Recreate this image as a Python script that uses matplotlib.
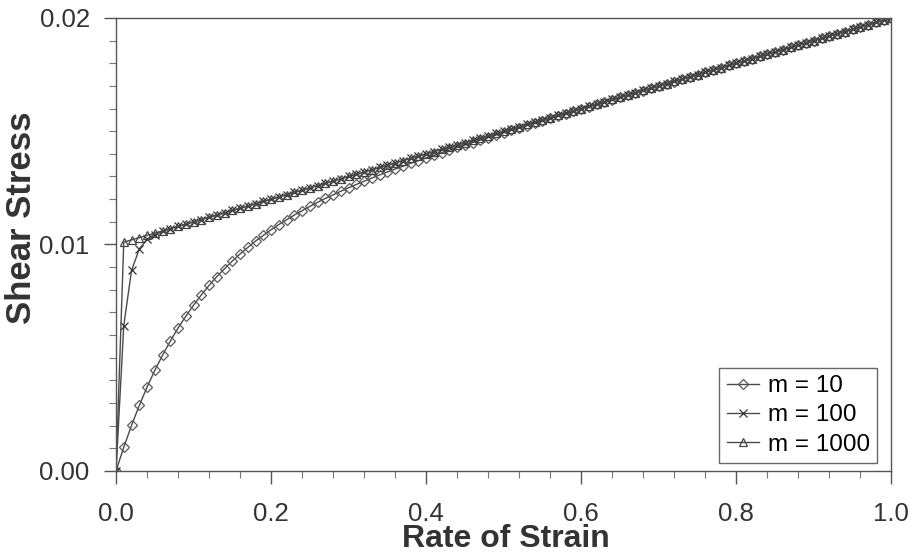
import matplotlib
matplotlib.use("Agg")
import matplotlib.pyplot as plt
from matplotlib.ticker import MultipleLocator, FormatStrFormatter

plt.rcParams["font.family"] = ["Liberation Sans", "DejaVu Sans"]

# rate of strain samples
strain = [
    0.00, 0.01, 0.02, 0.03, 0.04, 0.05, 0.06, 0.07, 0.08, 0.09,
    0.10, 0.11, 0.12, 0.13, 0.14, 0.15, 0.16, 0.17, 0.18, 0.19,
    0.20, 0.21, 0.22, 0.23, 0.24, 0.25, 0.26, 0.27, 0.28, 0.29,
    0.30, 0.31, 0.32, 0.33, 0.34, 0.35, 0.36, 0.37, 0.38, 0.39,
    0.40, 0.41, 0.42, 0.43, 0.44, 0.45, 0.46, 0.47, 0.48, 0.49,
    0.50, 0.51, 0.52, 0.53, 0.54, 0.55, 0.56, 0.57, 0.58, 0.59,
    0.60, 0.61, 0.62, 0.63, 0.64, 0.65, 0.66, 0.67, 0.68, 0.69,
    0.70, 0.71, 0.72, 0.73, 0.74, 0.75, 0.76, 0.77, 0.78, 0.79,
    0.80, 0.81, 0.82, 0.83, 0.84, 0.85, 0.86, 0.87, 0.88, 0.89,
    0.90, 0.91, 0.92, 0.93, 0.94, 0.95, 0.96, 0.97, 0.98, 0.99,
    1.00,
]

stress_m10 = [
    0.00000, 0.00105, 0.00201, 0.00289, 0.00370, 0.00444, 0.00511, 0.00573, 0.00631, 0.00683,
    0.00732, 0.00777, 0.00819, 0.00858, 0.00893, 0.00927, 0.00958, 0.00987, 0.01015, 0.01040,
    0.01065, 0.01088, 0.01109, 0.01130, 0.01149, 0.01168, 0.01186, 0.01203, 0.01219, 0.01235,
    0.01250, 0.01265, 0.01279, 0.01293, 0.01307, 0.01320, 0.01333, 0.01345, 0.01358, 0.01370,
    0.01382, 0.01393, 0.01405, 0.01416, 0.01428, 0.01439, 0.01450, 0.01461, 0.01472, 0.01483,
    0.01493, 0.01504, 0.01515, 0.01525, 0.01536, 0.01546, 0.01556, 0.01567, 0.01577, 0.01587,
    0.01598, 0.01608, 0.01618, 0.01628, 0.01638, 0.01649, 0.01659, 0.01669, 0.01679, 0.01689,
    0.01699, 0.01709, 0.01719, 0.01729, 0.01739, 0.01749, 0.01760, 0.01770, 0.01780, 0.01790,
    0.01800, 0.01810, 0.01820, 0.01830, 0.01840, 0.01850, 0.01860, 0.01870, 0.01880, 0.01890,
    0.01900, 0.01910, 0.01920, 0.01930, 0.01940, 0.01950, 0.01960, 0.01970, 0.01980, 0.01990,
    0.02000,
]

stress_m100 = [
    0.00000, 0.00642, 0.00885, 0.00980, 0.01022, 0.01043, 0.01058, 0.01069, 0.01080, 0.01090,
    0.01100, 0.01110, 0.01120, 0.01130, 0.01140, 0.01150, 0.01160, 0.01170, 0.01180, 0.01190,
    0.01200, 0.01210, 0.01220, 0.01230, 0.01240, 0.01250, 0.01260, 0.01270, 0.01280, 0.01290,
    0.01300, 0.01310, 0.01320, 0.01330, 0.01340, 0.01350, 0.01360, 0.01370, 0.01380, 0.01390,
    0.01400, 0.01410, 0.01420, 0.01430, 0.01440, 0.01450, 0.01460, 0.01470, 0.01480, 0.01490,
    0.01500, 0.01510, 0.01520, 0.01530, 0.01540, 0.01550, 0.01560, 0.01570, 0.01580, 0.01590,
    0.01600, 0.01610, 0.01620, 0.01630, 0.01640, 0.01650, 0.01660, 0.01670, 0.01680, 0.01690,
    0.01700, 0.01710, 0.01720, 0.01730, 0.01740, 0.01750, 0.01760, 0.01770, 0.01780, 0.01790,
    0.01800, 0.01810, 0.01820, 0.01830, 0.01840, 0.01850, 0.01860, 0.01870, 0.01880, 0.01890,
    0.01900, 0.01910, 0.01920, 0.01930, 0.01940, 0.01950, 0.01960, 0.01970, 0.01980, 0.01990,
    0.02000,
]

stress_m1000 = [
    0.00000, 0.01010, 0.01020, 0.01030, 0.01040, 0.01050, 0.01060, 0.01070, 0.01080, 0.01090,
    0.01100, 0.01110, 0.01120, 0.01130, 0.01140, 0.01150, 0.01160, 0.01170, 0.01180, 0.01190,
    0.01200, 0.01210, 0.01220, 0.01230, 0.01240, 0.01250, 0.01260, 0.01270, 0.01280, 0.01290,
    0.01300, 0.01310, 0.01320, 0.01330, 0.01340, 0.01350, 0.01360, 0.01370, 0.01380, 0.01390,
    0.01400, 0.01410, 0.01420, 0.01430, 0.01440, 0.01450, 0.01460, 0.01470, 0.01480, 0.01490,
    0.01500, 0.01510, 0.01520, 0.01530, 0.01540, 0.01550, 0.01560, 0.01570, 0.01580, 0.01590,
    0.01600, 0.01610, 0.01620, 0.01630, 0.01640, 0.01650, 0.01660, 0.01670, 0.01680, 0.01690,
    0.01700, 0.01710, 0.01720, 0.01730, 0.01740, 0.01750, 0.01760, 0.01770, 0.01780, 0.01790,
    0.01800, 0.01810, 0.01820, 0.01830, 0.01840, 0.01850, 0.01860, 0.01870, 0.01880, 0.01890,
    0.01900, 0.01910, 0.01920, 0.01930, 0.01940, 0.01950, 0.01960, 0.01970, 0.01980, 0.01990,
    0.02000,
]

labels = ["m = 10", "m = 100", "m = 1000"]

fig = plt.figure(figsize=(9.1, 5.6), dpi=100)
ax = fig.add_axes([0.1275, 0.159, 0.852, 0.809])

ax.plot(strain, stress_m10, color="#4a4a4a", linewidth=1.0, marker="D", markersize=5,
        markerfacecolor="none", markeredgecolor="#5a5a5a", markeredgewidth=0.9,
        label=labels[0])
ax.plot(strain, stress_m100, color="#4a4a4a", linewidth=1.0, marker="x", markersize=6,
        markeredgecolor="#333333", markeredgewidth=0.9, label=labels[1])
ax.plot(strain, stress_m1000, color="#4a4a4a", linewidth=1.0, marker="^", markersize=6,
        markerfacecolor="none", markeredgecolor="#444444", markeredgewidth=0.9,
        label=labels[2])

ax.set_xlim(0, 1.0)
ax.set_ylim(0, 0.02)
ax.xaxis.set_major_locator(MultipleLocator(0.2))
ax.xaxis.set_minor_locator(MultipleLocator(0.04))
ax.yaxis.set_major_locator(MultipleLocator(0.01))
ax.yaxis.set_minor_locator(MultipleLocator(0.001))
ax.xaxis.set_major_formatter(FormatStrFormatter("%.1f"))
ax.yaxis.set_major_formatter(FormatStrFormatter("%.2f"))

ax.tick_params(which="major", direction="out", length=9, width=1, color="#555555",
               labelsize=18.5, labelcolor="#333333", pad=10)
ax.tick_params(which="minor", direction="out", length=5, width=0.8, color="#777777")
ax.tick_params(axis="x", which="major", pad=13)

for s in ax.spines.values():
    s.set_color("#555555")
    s.set_linewidth(1.0)

ax.set_xlabel("Rate of Strain", fontsize=23, fontweight="bold", color="#333333",
              va="baseline")
ax.xaxis.set_label_coords(0.503, -0.168)
ax.set_ylabel("Shear Stress", fontsize=25, fontweight="bold", color="#333333",
              va="center")
ax.yaxis.set_label_coords(-0.122, 0.56)

leg = ax.legend(loc="lower right", bbox_to_anchor=(0.982, 0.0177), borderaxespad=0,
                fontsize=17.5, frameon=True, fancybox=False, edgecolor="#444444",
                handlelength=1.35, handletextpad=0.35, labelspacing=0.3,
                borderpad=0.3)
leg.get_frame().set_linewidth(1.0)

fig.savefig("out.png", dpi=100)
